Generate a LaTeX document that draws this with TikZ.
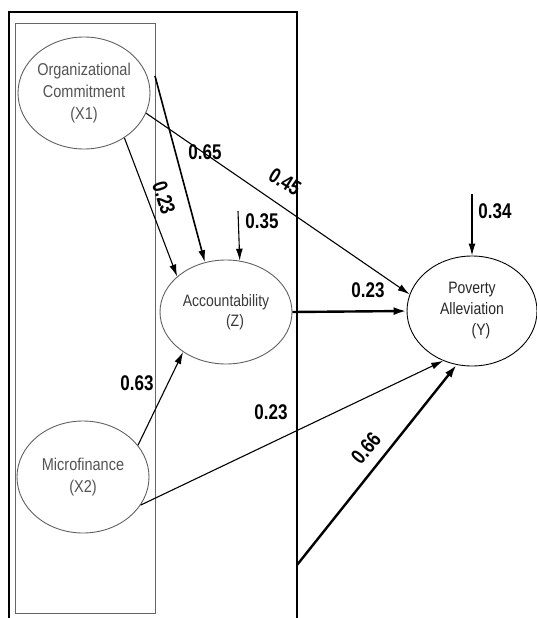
\documentclass[tikz,border=0pt]{standalone}
\usepackage{fontspec}
\setmainfont{Liberation Sans}
\usetikzlibrary{shapes.geometric,arrows.meta}
\newcommand\tallnum[1]{\scalebox{1}[1.25]{#1}}
\newcommand\talltxt[1]{\scalebox{1}[1.18]{#1}}
\begin{document}
\begin{tikzpicture}[x=1pt,y=1pt,
  lat/.style={ellipse,draw=gray!75!black,line width=0.9pt,inner sep=0pt,minimum width=132pt,minimum height=112pt},
  lattext/.style={align=center,text=gray!65!black,font=\fontsize{14.5}{22}\selectfont},
  coef/.style={font=\bfseries\fontsize{17}{17}\selectfont,inner sep=0pt},
  path/.style={line width=1.1pt,-{Latex[length=12pt,width=7pt]}},
  thickpath/.style={line width=2.4pt,-{Latex[length=13pt,width=8pt]}}]
\useasboundingbox (0,0) rectangle (537,-618);
% frames
\draw[line width=2.2pt] (9,-618) -- (9,-12) -- (297,-12) -- (297,-618);
\draw[gray!80!black,line width=0.8pt] (15,-23) rectangle (155,-613);
% constructs
\node[lat,label={[lattext]center:\talltxt{Organizational}\\\talltxt{Commitment}\\\talltxt{(X1)}}] (oc) at (84,-93) {};
\node[lat,minimum height=104pt,label={[lattext,text=gray!45!black,font=\fontsize{14}{20}\selectfont]center:\talltxt{Accountability}\\\hspace*{18pt}\talltxt{(Z)}}] (acc) at (226,-312) {};
\node[lat,label={[lattext]center:\talltxt{Microfinance}\\\talltxt{(X2)}}] (mf) at (83,-477) {};
\node[lat,draw=black,minimum width=130pt,minimum height=110pt,label={[lattext,text=black!85,font=\fontsize{14}{21}\selectfont]center:\talltxt{Poverty}\\\talltxt{Alleviation}\\\hspace*{18pt}\talltxt{(Y)}}] (pov) at (472,-311) {};
% free ends
\coordinate (c65) at (155,-76);
\coordinate (r1) at (238,-211);
\coordinate (r2) at (472,-194);
\coordinate (c66) at (297,-565);
% paths
\draw[path] (oc.-48) -- (acc.144);
\draw[path,line width=1.6pt] (c65) -- (acc.113);
\draw[path] (oc.-18) -- (pov.165);
\draw[path] (r1) -- (acc.75);
\draw[thickpath] (acc.east) -- (pov.west);
\draw[path] (mf.30) -- (acc.-137);
\draw[path] (mf.-26) -- (pov.-120);
\draw[thickpath] (c66) -- (pov.-106);
\draw[path] (r2) -- (pov.north);
% coefficients
\node[coef] (l65) at (205,-152) {\tallnum{0.65}};
\node[coef,rotate=-72] (l23a) at (164,-198) {\tallnum{0.23}};
\node[coef,rotate=-32] (l45) at (285,-182) {\tallnum{0.45}};
\node[coef] (l35) at (262,-221) {\tallnum{0.35}};
\node[coef] (l23b) at (368,-290) {\tallnum{0.23}};
\node[coef] (l63) at (137,-383) {\tallnum{0.63}};
\node[coef] (l23c) at (271,-412) {\tallnum{0.23}};
\node[coef,rotate=50] (l66) at (366,-448) {\tallnum{0.66}};
\node[coef] (l34) at (495,-211) {\tallnum{0.34}};
\end{tikzpicture}
\end{document}
